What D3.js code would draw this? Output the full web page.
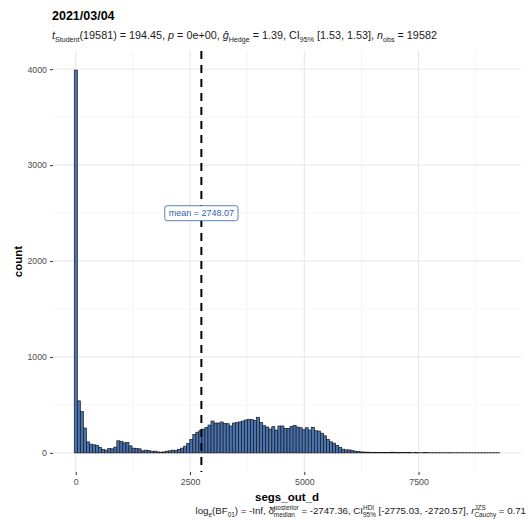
<!DOCTYPE html>
<html>
<head>
<meta charset="utf-8">
<script src="https://cdn.jsdelivr.net/npm/d3@7"></script>
<style>
  body { margin: 0; background: #fff; }
  text { font-family: "Liberation Sans", Arial, sans-serif; white-space: pre; }
</style>
</head>
<body>
<div id="chart-area"></div>
<script>
// histogram counts, one per bin (bin i centred at i * binWidth)
const counts = [
  3990, 542, 430, 259, 115, 91, 84, 80, 56, 35,
  28, 45, 42, 60, 126, 119, 105, 108, 73, 49,
  45, 42, 21, 28, 25, 14, 18, 10, 7, 10,
  18, 21, 28, 25, 35, 49, 70, 98, 140, 192,
  215, 231, 248, 266, 290, 332, 311, 311, 322, 308,
  304, 280, 311, 315, 322, 332, 343, 350, 346, 339,
  371, 315, 283, 269, 248, 273, 238, 280, 280, 255,
  255, 276, 287, 269, 262, 241, 262, 238, 266, 231,
  227, 205, 178, 140, 115, 101, 77, 56, 38, 31,
  31, 24, 17, 14, 10, 8, 7, 6, 5, 6,
  5, 4, 4, 5, 7, 6, 4, 3, 3, 4,
  3, 2, 3, 2, 2, 3, 2, 2, 1, 2,
  2, 1, 1, 2, 1, 1, 1, 1, 1, 1,
  1, 1, 1, 1, 1, 1, 1, 1, 1, 1
]
const binWidth = 66.5
const xTicks = [0, 2500, 5000, 7500]
const xMinor = [1250, 3750, 6250, 8750]
const yTicks = [0, 1000, 2000, 3000, 4000]
const yMinor = [500, 1500, 2500, 3500]
const meanValue = 2748.07
const meanLabelAt = 2500

const titleText = "2021/03/04"
const subtitleParts = [
  { t: "t", it: true }, { sub: "Student" }, { t: "(19581) = 194.45, " },
  { t: "p", it: true }, { t: " = 0e+00, " },
  { t: "\u011D", it: true }, { sub: "Hedge" }, { t: " = 1.39, CI" }, { sub: "95%" },
  { t: " [1.53, 1.53], " },
  { t: "n", it: true }, { sub: "obs" }, { t: " = 19582" }
]
const captionParts = [
  { t: "log" }, { sub: "e" }, { t: "(BF" }, { sub: "01" }, { t: ") = -Inf, " },
  { t: "\u03B4\u0302" }, { sup: "posterior", sub: "median" }, { t: " = -2747.36, CI" },
  { sup: "HDI", sub: "95%" }, { t: " [-2775.03, -2720.57], " },
  { t: "r", it: true }, { sup: "JZS", sub: "Cauchy" }, { t: " = 0.71" }
]

const W = 531, H = 525
const PANEL = { LEFT: 53, RIGHT: 521, TOP: 51, BOTTOM: 472 }

const svg = d3.select("#chart-area").append("svg")
  .attr("width", W)
  .attr("height", H)

// ggplot-style 5% expansion
const xLo = -binWidth / 2, xHi = (counts.length - 0.5) * binWidth
const xPad = (xHi - xLo) * 0.05
const x = d3.scaleLinear()
  .domain([xLo - xPad, xHi + xPad])
  .range([PANEL.LEFT, PANEL.RIGHT])

const yMax = d3.max(counts)
const y = d3.scaleLinear()
  .domain([-yMax * 0.05, yMax * 1.05])
  .range([PANEL.BOTTOM, PANEL.TOP])

// grid
const grid = svg.append("g")
grid.selectAll(".ymin").data(yMinor).enter().append("line")
  .attr("x1", PANEL.LEFT).attr("x2", PANEL.RIGHT)
  .attr("y1", d => y(d)).attr("y2", d => y(d))
  .attr("stroke", "#efefef").attr("stroke-width", 0.6)
grid.selectAll(".xmin").data(xMinor).enter().append("line")
  .attr("y1", PANEL.TOP).attr("y2", PANEL.BOTTOM)
  .attr("x1", d => x(d)).attr("x2", d => x(d))
  .attr("stroke", "#efefef").attr("stroke-width", 0.6)
grid.selectAll(".ymaj").data(yTicks).enter().append("line")
  .attr("x1", PANEL.LEFT).attr("x2", PANEL.RIGHT)
  .attr("y1", d => y(d)).attr("y2", d => y(d))
  .attr("stroke", "#e6e6e6").attr("stroke-width", 1)
grid.selectAll(".xmaj").data(xTicks).enter().append("line")
  .attr("y1", PANEL.TOP).attr("y2", PANEL.BOTTOM)
  .attr("x1", d => x(d)).attr("x2", d => x(d))
  .attr("stroke", "#e6e6e6").attr("stroke-width", 1)

// axes
const xAxisCall = d3.axisBottom(x).tickValues(xTicks).tickSize(3).tickPadding(4)
  .tickFormat(d3.format("d"))
const xAxis = svg.append("g")
  .attr("transform", `translate(0, ${PANEL.BOTTOM})`)
  .call(xAxisCall)
xAxis.select(".domain").remove()
xAxis.selectAll("line").attr("stroke", "#333")
xAxis.selectAll("text").attr("fill", "#4d4d4d").attr("font-size", 8.8)

const yAxisCall = d3.axisLeft(y).tickValues(yTicks).tickSize(3).tickPadding(3)
  .tickFormat(d3.format("d"))
const yAxis = svg.append("g")
  .attr("transform", `translate(${PANEL.LEFT}, 0)`)
  .call(yAxisCall)
yAxis.select(".domain").remove()
yAxis.selectAll("line").attr("stroke", "#333")
yAxis.selectAll("text").attr("fill", "#4d4d4d").attr("font-size", 8.8)
svg.selectAll(".tick text").style("font-family", "\"Liberation Sans\", Arial, sans-serif")

// bars
svg.append("g").selectAll("rect")
  .data(counts)
  .enter().append("rect")
    .attr("x", (d, i) => x(i * binWidth - binWidth / 2))
    .attr("width", x(binWidth) - x(0))
    .attr("y", d => y(d))
    .attr("height", d => y(0) - y(d))
    .attr("fill", "#4773b3")
    .attr("stroke", "#1a1a1a")
    .attr("stroke-width", 0.7)

// mean line
svg.append("line")
  .attr("x1", x(meanValue)).attr("x2", x(meanValue))
  .attr("y1", PANEL.TOP).attr("y2", PANEL.BOTTOM)
  .attr("stroke", "black")
  .attr("stroke-width", 2)
  .attr("stroke-dasharray", "8,6")

// mean label
const lbl = svg.append("g")
  .attr("transform", `translate(${x(meanValue)}, ${y(meanLabelAt)})`)
const lblText = lbl.append("text")
  .attr("text-anchor", "middle")
  .attr("dy", "0.35em")
  .attr("font-size", 9)
  .attr("fill", "#2f62a6")
  .text("mean = " + meanValue.toFixed(2))
const bb = lblText.node().getBBox()
lbl.insert("rect", "text")
  .attr("x", bb.x - 4).attr("y", bb.y - 2.5)
  .attr("width", bb.width + 8).attr("height", bb.height + 5)
  .attr("rx", 2.5)
  .attr("fill", "white")
  .attr("stroke", "#2f62a6")
  .attr("stroke-width", 0.8)

// axis titles
svg.append("text")
  .attr("x", (PANEL.LEFT + PANEL.RIGHT) / 2)
  .attr("y", 501)
  .attr("text-anchor", "middle")
  .attr("font-weight", "bold")
  .attr("font-size", 11.5)
  .text("segs_out_d")

svg.append("text")
  .attr("transform", `translate(22, ${(PANEL.TOP + PANEL.BOTTOM) / 2}) rotate(-90)`)
  .attr("text-anchor", "middle")
  .attr("font-weight", "bold")
  .attr("font-size", 11.5)
  .text("count")

// title
svg.append("text")
  .attr("x", 52)
  .attr("y", 19.5)
  .attr("font-weight", "bold")
  .attr("font-size", 12.5)
  .text(titleText)

// text with sub/superscripts
function richText(sel, x0, y0, parts, size, anchor) {
  const g = sel.append("g")
  let cx = 0
  parts.forEach(p => {
    if (p.sub !== undefined || p.sup !== undefined) {
      let w = 0
      if (p.sup !== undefined) {
        const t = g.append("text").attr("x", cx).attr("y", -size * 0.45)
          .attr("font-size", size * 0.66).text(p.sup)
        w = Math.max(w, t.node().getComputedTextLength())
      }
      if (p.sub !== undefined) {
        const t = g.append("text").attr("x", cx).attr("y", size * 0.32)
          .attr("font-size", size * 0.66).text(p.sub)
        w = Math.max(w, t.node().getComputedTextLength())
      }
      cx += w
    } else {
      const t = g.append("text").attr("x", cx).attr("y", 0)
        .attr("font-size", size)
        .attr("font-style", p.it ? "italic" : null)
        .text(p.t)
      cx += t.node().getComputedTextLength()
    }
  })
  const dx = anchor === "end" ? x0 - cx : x0
  g.attr("transform", `translate(${dx}, ${y0})`)
  return g
}

richText(svg, 52, 39, subtitleParts, 10.8, "start").attr("fill", "#1a1a1a")
richText(svg, 526, 514, captionParts, 9.7, "end").attr("fill", "#1a1a1a")
</script>
</body>
</html>
